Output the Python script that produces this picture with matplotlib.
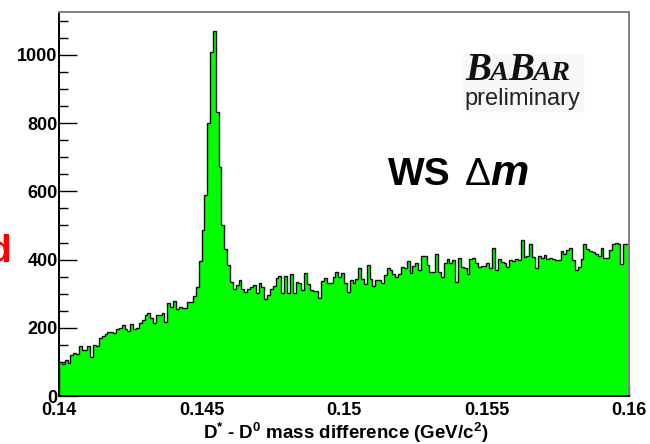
import numpy as np
import matplotlib
matplotlib.use("Agg")
import matplotlib.pyplot as plt
from matplotlib.ticker import FixedLocator, MultipleLocator
from matplotlib.patches import Rectangle

plt.rcParams['font.family'] = ['Liberation Sans', 'DejaVu Sans']
plt.rcParams['mathtext.fontset'] = 'custom'
plt.rcParams['mathtext.rm'] = 'Liberation Sans:bold'
plt.rcParams['mathtext.bf'] = 'Liberation Sans:bold'
plt.rcParams['mathtext.it'] = 'Liberation Sans:bold:italic'
plt.rcParams['mathtext.default'] = 'bf'

# ---- data ----
x_min = 0.14
x_max = 0.16
n_bins = 200
counts = [
    100, 94, 105, 97, 120, 125, 124, 148, 136, 135, 146, 115, 150, 146, 170,
    176, 183, 188, 188, 186, 196, 198, 207, 196, 192, 212, 197, 198, 214,
    223, 237, 242, 230, 213, 237, 237, 244, 218, 274, 262, 280, 254, 262, 257,
    257, 277, 277, 293, 319,
    396, 487, 589, 801, 1008, 1070, 834, 672, 501, 431, 384,
    335, 313, 325, 340, 313, 306, 313, 319, 325, 301, 330, 319, 284, 296, 313,
    322, 345, 352, 301, 352, 301, 358, 301, 335, 332, 311,
    360, 328, 311, 309, 309, 286, 338, 345, 330, 331, 350, 365, 350, 360, 331,
    306, 340, 331, 343, 374, 343, 327, 384, 343, 322, 340, 340, 330, 355, 374, 370,
    357, 350, 357, 379, 374, 396, 362, 382, 390, 369, 411, 411, 384, 364, 364,
    415, 364, 350, 389, 401, 389, 399, 333, 404, 379, 376, 359,
    401, 406, 390, 379, 382, 382, 389, 376, 433, 369, 401, 392, 391, 377, 399,
    396, 401, 399, 457, 408, 411, 447, 408, 376, 411, 405, 413, 401, 405,
    401, 399, 399, 425, 415, 428, 433, 399, 369, 379, 401, 447, 431, 425, 421,
    415, 411, 435, 405, 405, 428, 445, 450, 447, 386, 445, 447,
]
x_ticks = [0.14, 0.145, 0.15, 0.155, 0.16]
x_tick_labels = ["0.14", "0.145", "0.15", "0.155", "0.16"]
y_ticks = [0, 200, 400, 600, 800, 1000]
y_tick_labels = ["0", "200", "400", "600", "800", "1000"]
x_label = r"D$^{*}$ - D$^{0}$ mass difference (GeV/c$^{2}$)"
logo_text = "preliminary"

edges = np.linspace(x_min, x_max, n_bins + 1)
vals = np.array(counts, dtype=float)

W, H = 650, 444
fig = plt.figure(figsize=(W/100, H/100), dpi=100)
ax = fig.add_axes([59/W, 1 - 396/H, (629-59)/W, (396-12)/H])

ax.stairs(vals, edges, fill=True, color='#00ff00', baseline=0, zorder=2)
ax.stairs(vals, edges, color='#111111', lw=1.0, baseline=0, zorder=3)

ax.set_xlim(x_min, x_max)
ax.set_ylim(0, 1126)

ax.xaxis.set_major_locator(FixedLocator(x_ticks))
ax.set_xticklabels(x_tick_labels)
ax.xaxis.set_minor_locator(MultipleLocator(0.001))
ax.yaxis.set_major_locator(FixedLocator(y_ticks))
ax.set_yticklabels(y_tick_labels)
ax.yaxis.set_minor_locator(MultipleLocator(50))

ax.tick_params(axis='both', which='both', direction='in', top=False, right=False,
               color='black', width=1.0, zorder=5)
ax.tick_params(axis='y', which='major', length=13, pad=1)
ax.tick_params(axis='y', which='minor', length=6.5)
ax.tick_params(axis='x', which='major', length=8, pad=4)
ax.tick_params(axis='x', which='minor', length=4.3)
for lab in ax.get_xticklabels() + ax.get_yticklabels():
    lab.set_fontweight('bold')
    lab.set_fontsize(13)

for s in ['left', 'bottom']:
    ax.spines[s].set_color('black')
    ax.spines[s].set_linewidth(1.4)
for s in ['top', 'right']:
    ax.spines[s].set_color('#808080')
    ax.spines[s].set_linewidth(1.4)
for s in ax.spines.values():
    s.set_zorder(6)

# x axis title
fig.text(346/W, 1 - 433/H, x_label, fontsize=13.5, fontweight='bold',
         ha='center', va='center')

renderer = fig.canvas.get_renderer()
figw_px = fig.dpi * fig.get_figwidth()


def draw_pieces(x0, ybase, pieces):
    xcur = x0
    for piece, kw, gap in pieces:
        t = fig.text(xcur, ybase, piece, ha='left', va='baseline', **kw)
        bb = t.get_window_extent(renderer=renderer)
        xcur = bb.x1 / figw_px + gap / W


# WS Delta m
big = 28
draw_pieces(388/W, 1 - 185/H, [
    ("WS", dict(fontsize=big, fontweight='bold'), 14),
    ("\u0394", dict(fontsize=big, fontweight='normal'), 0),
    (r"$\mathit{m}$", dict(fontsize=31), 0),
])

# BABAR logo
fig.patches.append(Rectangle((463/W, 1 - 111/H), 120/W, 57/H,
                             transform=fig.transFigure, color='#f7f7f7', zorder=0))
serif = dict(family='Liberation Serif', style='italic', fontweight='bold',
             color='#111111')
draw_pieces(465/W, 1 - 80/H, [
    ("B", dict(fontsize=28, **serif), -1),
    ("A", dict(fontsize=20.5, **serif), -1),
    ("B", dict(fontsize=28, **serif), -1),
    ("AR", dict(fontsize=20.5, **serif), 0),
])
fig.text(522/W, 1 - 98.5/H, logo_text, fontsize=17, family='Liberation Sans',
         ha='center', va='center', color='#222222')

# cropped red text at left edge
fig.text(11/W, 1 - 262/H, "d", fontsize=28, fontweight='bold', color='#ff0000',
         ha='right', va='baseline')

fig.savefig("out.png", dpi=100)
